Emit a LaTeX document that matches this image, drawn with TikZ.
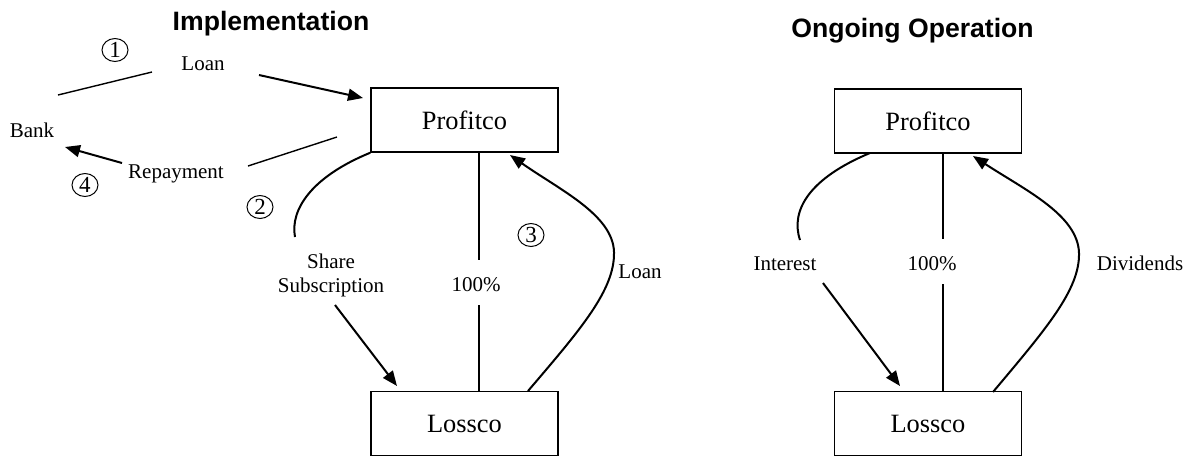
\documentclass[tikz,border=0pt]{standalone}
\usepackage{fontspec}
\setmainfont{Liberation Serif}
\newfontfamily\headfont{Liberation Sans}
\usepackage{tikz}
\usetikzlibrary{arrows.meta, shapes.geometric}

\tikzset{
  entity/.style={draw, line width=0.7pt, minimum width=93.5pt, minimum height=32pt,
    font=\fontsize{13.2}{15}\selectfont},
  lbl/.style={inner sep=0pt, align=center, font=\fontsize{10.5}{12}\selectfont},
  stepno/.style={ellipse, draw, line width=0.5pt, minimum width=13pt,
    minimum height=11.5pt, inner sep=0pt, font=\fontsize{11.5}{13}\selectfont},
  heading/.style={inner sep=0pt, font=\headfont\bfseries\fontsize{13.3}{16}\selectfont},
  flow/.style={-{Triangle[length=7.5pt,width=6pt]}, line width=1pt},
  curve/.style={line width=1pt},
  link/.style={line width=0.7pt}
}

\begin{document}
\begin{tikzpicture}[x=0.5pt, y=-0.5pt]
  \useasboundingbox (0,0) rectangle (1190,457);

  % Implementation
  \node[heading, anchor=base] (headA) at (271,30) {Implementation};
  \node[entity] (profA) at (464.5,120) {Profitco};
  \node[entity] (lossA) at (464.5,423.5) {Lossco};
  \node[lbl, anchor=base] (bank) at (32,137) {Bank};
  \node[lbl, anchor=base] (loanT) at (203,70) {Loan};
  \node[lbl, anchor=base] (repay) at (176,178) {Repayment};
  \node[lbl] (share) at (331,275) {Share\\Subscription};
  \node[lbl, anchor=base] (pctA) at (476,291) {100\%};
  \node[lbl, anchor=base] (loanR) at (640,278) {Loan};
  \node[stepno] (one) at (115,50) {1};
  \node[stepno] (two) at (260,207) {2};
  \node[stepno] (three) at (531,235) {3};
  \node[stepno] (four) at (85,185) {4};

  \coordinate (loanS) at (58,95);    \coordinate (loanE) at (152,72);
  \coordinate (loanF) at (259,75);   \coordinate (loanP) at (363,98);
  \coordinate (repS) at (337,137);   \coordinate (repE) at (248,166);
  \coordinate (repF) at (122,163);   \coordinate (repB) at (65,147);
  \coordinate (shrE) at (295,237);
  \coordinate (shrF) at (335,305);   \coordinate (shrL) at (397,386);
  \coordinate (pctAt) at (479,152);  \coordinate (pctAu) at (479,260);
  \coordinate (pctAd) at (479,305);  \coordinate (pctAb) at (479,391);
  \coordinate (lnS) at (528,391);    \coordinate (lnP) at (510,155);

  % Bank <-> Profitco
  \draw[link] (loanS) -- (loanE);
  \draw[flow] (loanF) -- (loanP);
  \draw[link] (repS) -- (repE);
  \draw[flow] (repF) -- (repB);
  % Profitco -> Lossco
  \draw[curve] (profA.south west) .. controls (311,177) and (290,210) .. (shrE);
  \draw[flow] (shrF) -- (shrL);
  \draw[link] (pctAt) -- (pctAu);
  \draw[link] (pctAd) -- (pctAb);
  % Lossco -> Profitco
  \draw[flow] (lnS) .. controls (580,330) and (615,290) .. (614,252)
    .. controls (613,215) and (560,190) .. (lnP);

  % Ongoing Operation
  \node[heading, anchor=base] (headB) at (912.5,37) {Ongoing Operation};
  \node[entity] (profB) at (928,121) {Profitco};
  \node[entity] (lossB) at (928,423.5) {Lossco};
  \node[lbl, anchor=base] (inter) at (785,270) {Interest};
  \node[lbl, anchor=base] (pctB) at (932,270) {100\%};
  \node[lbl, anchor=base] (divid) at (1140,270) {Dividends};

  \coordinate (intS) at (870,153);   \coordinate (intE) at (800,240);
  \coordinate (intF) at (823,283);   \coordinate (intL) at (900,386);
  \coordinate (pctBt) at (943,153);  \coordinate (pctBu) at (943,239);
  \coordinate (pctBd) at (943,284);  \coordinate (pctBb) at (943,392);
  \coordinate (divS) at (993,392);   \coordinate (divP) at (973,156);

  \draw[curve] (intS) .. controls (810,178) and (790,210) .. (intE);
  \draw[flow] (intF) -- (intL);
  \draw[link] (pctBt) -- (pctBu);
  \draw[link] (pctBd) -- (pctBb);
  \draw[flow] (divS) .. controls (1045,330) and (1080,290) .. (1079,253)
    .. controls (1078,215) and (1025,190) .. (divP);
\end{tikzpicture}
\end{document}
